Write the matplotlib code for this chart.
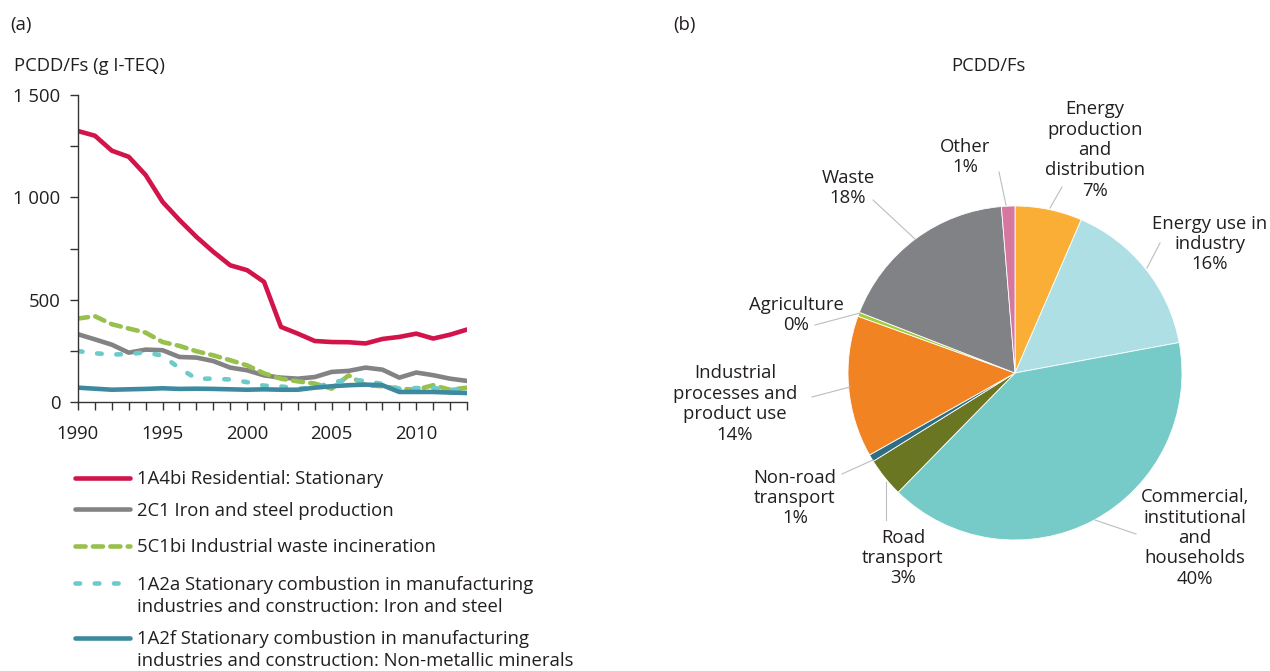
import matplotlib
matplotlib.use("Agg")
import matplotlib.pyplot as plt
from matplotlib.lines import Line2D
from matplotlib.ticker import FuncFormatter, MultipleLocator

plt.rcParams['font.family'] = ['Open Sans', 'DejaVu Sans']

############
# data
############
years = list(range(1990, 2014))

residential = [1324, 1301, 1228, 1198, 1109, 978, 889, 807, 734, 668, 644, 587,
               367, 334, 298, 293, 292, 286, 308, 318, 334, 310, 329, 354]
iron_steel_prod = [331, 306, 280, 241, 256, 253, 220, 217, 200, 168, 155, 130,
                   119, 114, 122, 147, 152, 168, 158, 119, 144, 131, 114, 103]
waste_incin = [408, 419, 380, 359, 339, 293, 274, 248, 228, 204, 179, 140,
               114, 101, 90, 65, 130, 82, 77, 65, 60, 82, 60, 70]
comb_iron_steel = [249, 238, 232, 234, 243, 226, 165, 114, 114, 110, 97, 80,
                   76, 65, 70, 95, 110, 103, 88, 65, 68, 68, 60, 62]
comb_minerals = [70, 65, 60, 62, 64, 67, 64, 65, 64, 62, 60, 62,
                 60, 60, 70, 77, 82, 85, 82, 49, 49, 49, 46, 44]

series_labels = ['1A4bi Residential: Stationary',
                 '2C1 Iron and steel production',
                 '5C1bi Industrial waste incineration',
                 '1A2a Stationary combustion in manufacturing\nindustries and construction: Iron and steel',
                 '1A2f Stationary combustion in manufacturing\nindustries and construction: Non-metallic minerals']

pie_labels = ['Energy\nproduction\nand\ndistribution\n7%',
              'Energy use in\nindustry\n16%',
              'Commercial,\ninstitutional\nand\nhouseholds\n40%',
              'Road\ntransport\n3%',
              'Non-road\ntransport\n1%',
              'Industrial\nprocesses and\nproduct use\n14%',
              'Agriculture\n0%',
              'Waste\n18%',
              'Other\n1%']
pie_values = [6.5, 15.6, 40.3, 3.8, 0.7, 13.7, 0.4, 17.8, 1.3]
pie_colors = ['#FBAE35', '#AEDFE5', '#76CBC8', '#6B7623', '#2E6E85',
              '#F28322', '#A5CD39', '#808285', '#D677A0']

TXT = '#231F20'
FS = 13.3
W, H = 1270., 671.

fig = plt.figure(figsize=(12.7, 6.71), dpi=100)

############
# (a) lines
############
styles = [dict(color='#D2144A', solid_capstyle='round'),
          dict(color='#838386', solid_capstyle='round'),
          dict(color='#98C04C', dashes=(2.2, 1.6), dash_capstyle='round'),
          dict(color='#6DCACA', dashes=(1.0, 3.2), dash_capstyle='round'),
          dict(color='#3D8AA0', solid_capstyle='round')]

ax = fig.add_axes([78 / W, 1 - 402 / H, 389 / W, 307 / H])
for vals, st in zip([residential, iron_steel_prod, waste_incin, comb_iron_steel, comb_minerals], styles):
    ax.plot(years, vals, lw=3.3, **st)

ax.set_xlim(1990, 2013)
ax.set_ylim(0, 1500)
for s in ['top', 'right']:
    ax.spines[s].set_visible(False)
for s in ['left', 'bottom']:
    ax.spines[s].set_color('#333333')
    ax.spines[s].set_linewidth(1)
ax.set_xticks(range(1990, 2011, 5))
ax.xaxis.set_minor_locator(MultipleLocator(1))
ax.yaxis.set_major_locator(MultipleLocator(500))
ax.yaxis.set_minor_locator(MultipleLocator(250))
ax.yaxis.set_major_formatter(FuncFormatter(lambda v, p: '{:,.0f}'.format(v).replace(',', ' ')))
ax.tick_params(axis='both', which='both', direction='out', length=5.5, width=1,
               color='#333333', labelsize=FS, labelcolor=TXT)
ax.tick_params(axis='y', pad=7)
ax.tick_params(axis='x', pad=11)

fig.text(10 / W, 1 - 25 / H, '(a)', fontsize=FS, color=TXT, va='center')
fig.text(14 / W, 1 - 66 / H, 'PCDD/Fs (g I-TEQ)', fontsize=FS, color=TXT, va='center')

# legend drawn by hand so the key sits on the first text line
leg_rows = [478, 509, 546, 583, 638]
for lab, st, yy in zip(series_labels, styles, leg_rows):
    fig.add_artist(Line2D([75 / W, 130 / W], [1 - yy / H, 1 - yy / H], lw=3.3,
                          transform=fig.transFigure, **st))
    for k, line in enumerate(lab.split('\n')):
        fig.text(137 / W, 1 - (yy + 6.5 + 22 * k) / H, line, fontsize=FS, color=TXT,
                 va='baseline', ha='left')

############
# (b) pie
############
fig.text(673 / W, 1 - 25 / H, '(b)', fontsize=FS, color=TXT, va='center')

px = fig.add_axes([635 / W, 0, 635 / W, 1])
cx, cy, r = 1015, H - 373, 167
px.pie(pie_values, colors=pie_colors, startangle=90, counterclock=False,
       center=(cx, cy), radius=r, frame=True,
       wedgeprops=dict(linewidth=0.6, edgecolor='white'))
px.set_xlim(635, 1270)
px.set_ylim(0, H)
px.set_aspect('equal')
px.axis('off')

px.text(988, H - 66, 'PCDD/Fs', fontsize=FS, color=TXT, ha='center', va='center')

# label centre (x, y) and leader (x0, y0, x1, y1), image pixel coords
label_pos = [(1095, 150), (1210, 244), (1195, 538), (903, 558), (795, 498),
             (735, 404), (796, 315), (848, 188), (965, 157)]
leaders = [(1062, 187, 1050, 208), (1160, 243, 1147, 268), (1136, 534, 1095, 520),
           (886, 520, 886, 482), (842, 474, 873, 460), (812, 397, 850, 387),
           (815, 325, 860, 313), (873, 200, 915, 239), (999, 172, 1006, 205)]
for lab, (tx, ty), (x0, y0, x1, y1) in zip(pie_labels, label_pos, leaders):
    px.text(tx, H - ty, lab, fontsize=FS, color=TXT, ha='center', va='center',
            linespacing=1.17)
    px.plot([x0, x1], [H - y0, H - y1], color='#BDBDBD', lw=0.8)

fig.savefig('out.png', dpi=100, facecolor='white')
